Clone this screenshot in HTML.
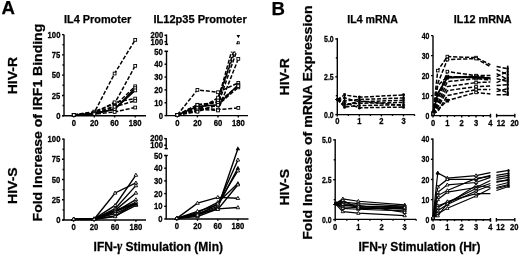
<!DOCTYPE html>
<html><head><meta charset="utf-8"><style>
html,body{margin:0;padding:0;background:#fff;}
svg{display:block;will-change:transform;}
text{font-family:"Liberation Sans", sans-serif;fill:#000;stroke:#000;stroke-width:0.25px;}
</style></head><body>
<svg width="520" height="255" viewBox="0 0 520 255">
<rect width="520" height="255" fill="#fff"/>
<text x="1.40" y="14.40" font-size="18.6" font-weight="bold" text-anchor="start">A</text>
<text x="271.40" y="14.60" font-size="18.6" font-weight="bold" text-anchor="start">B</text>
<text x="97.60" y="22.70" font-size="10.9" font-weight="bold" text-anchor="middle">IL4 Promoter</text>
<text x="200.10" y="22.50" font-size="11.05" font-weight="bold" text-anchor="middle">IL12p35 Promoter</text>
<text x="372.60" y="22.60" font-size="10.6" font-weight="bold" text-anchor="middle">IL4 mRNA</text>
<text x="482.80" y="22.80" font-size="10.85" font-weight="bold" text-anchor="middle">IL12 mRNA</text>
<text x="0.00" y="0.00" font-size="12.4" font-weight="bold" text-anchor="middle" transform="translate(16.80,75.60) rotate(-90) scale(1.13,1)">HIV-R</text>
<text x="0.00" y="0.00" font-size="12.4" font-weight="bold" text-anchor="middle" transform="translate(16.80,185.60) rotate(-90) scale(1.13,1)">HIV-S</text>
<text x="0.00" y="0.00" font-size="12.4" font-weight="bold" text-anchor="middle" transform="translate(289.00,76.80) rotate(-90) scale(1.13,1)">HIV-R</text>
<text x="0.00" y="0.00" font-size="12.4" font-weight="bold" text-anchor="middle" transform="translate(289.00,187.20) rotate(-90) scale(1.13,1)">HIV-S</text>
<text x="0.00" y="0.00" font-size="12.3" font-weight="bold" text-anchor="middle" transform="translate(42.20,122.60) rotate(-90) scale(1.14,1)">Fold Increase of IRF1 Binding</text>
<text x="0.00" y="0.00" font-size="12.3" font-weight="bold" text-anchor="middle" transform="translate(311.80,122.60) rotate(-90) scale(1.146,1)">Fold Increase of mRNA Expression</text>
<text x="0.00" y="0.00" font-size="12.03" font-weight="bold" text-anchor="middle" transform="translate(158.30,251.20) scale(1.0,1.095)">IFN-<tspan font-family="Liberation Serif" font-style="italic" font-weight="bold" font-size="12.5">γ</tspan> Stimulation (Min)</text>
<text x="0.00" y="0.00" font-size="12.03" font-weight="bold" text-anchor="middle" transform="translate(419.50,251.10) scale(1.0,1.095)">IFN-<tspan font-family="Liberation Serif" font-style="italic" font-weight="bold" font-size="12.5">γ</tspan> Stimulation (Hr)</text>
<line x1="64.00" y1="34.40" x2="64.00" y2="115.70" stroke="#000" stroke-width="1.4"/>
<line x1="62.00" y1="115.70" x2="64.00" y2="115.70" stroke="#000" stroke-width="1.4"/>
<text x="0.00" y="0.00" font-size="8.0" font-weight="bold" text-anchor="end" transform="translate(60.40,118.82) scale(0.96,1.1)">0</text>
<line x1="62.00" y1="95.43" x2="64.00" y2="95.43" stroke="#000" stroke-width="1.4"/>
<text x="0.00" y="0.00" font-size="8.0" font-weight="bold" text-anchor="end" transform="translate(60.40,98.55) scale(0.96,1.1)">25</text>
<line x1="62.00" y1="75.16" x2="64.00" y2="75.16" stroke="#000" stroke-width="1.4"/>
<text x="0.00" y="0.00" font-size="8.0" font-weight="bold" text-anchor="end" transform="translate(60.40,78.28) scale(0.96,1.1)">50</text>
<line x1="62.00" y1="54.89" x2="64.00" y2="54.89" stroke="#000" stroke-width="1.4"/>
<text x="0.00" y="0.00" font-size="8.0" font-weight="bold" text-anchor="end" transform="translate(60.40,58.01) scale(0.96,1.1)">75</text>
<line x1="62.00" y1="34.62" x2="64.00" y2="34.62" stroke="#000" stroke-width="1.4"/>
<text x="0.00" y="0.00" font-size="8.0" font-weight="bold" text-anchor="end" transform="translate(60.40,37.74) scale(0.96,1.1)">100</text>
<line x1="62.50" y1="105.56" x2="64.00" y2="105.56" stroke="#000" stroke-width="1.4"/>
<line x1="62.50" y1="85.30" x2="64.00" y2="85.30" stroke="#000" stroke-width="1.4"/>
<line x1="62.50" y1="65.03" x2="64.00" y2="65.03" stroke="#000" stroke-width="1.4"/>
<line x1="62.50" y1="44.76" x2="64.00" y2="44.76" stroke="#000" stroke-width="1.4"/>
<line x1="62.50" y1="115.70" x2="146.00" y2="115.70" stroke="#000" stroke-width="1.4"/>
<line x1="73.80" y1="115.70" x2="73.80" y2="117.50" stroke="#000" stroke-width="1.4"/>
<text x="0.00" y="0.00" font-size="8.0" font-weight="bold" text-anchor="middle" transform="translate(73.80,126.00) scale(0.96,1.1)">0</text>
<line x1="94.30" y1="115.70" x2="94.30" y2="117.50" stroke="#000" stroke-width="1.4"/>
<text x="0.00" y="0.00" font-size="8.0" font-weight="bold" text-anchor="middle" transform="translate(94.30,126.00) scale(0.96,1.1)">20</text>
<line x1="114.60" y1="115.70" x2="114.60" y2="117.50" stroke="#000" stroke-width="1.4"/>
<text x="0.00" y="0.00" font-size="8.0" font-weight="bold" text-anchor="middle" transform="translate(114.60,126.00) scale(0.96,1.1)">60</text>
<line x1="135.20" y1="115.70" x2="135.20" y2="117.50" stroke="#000" stroke-width="1.4"/>
<text x="0.00" y="0.00" font-size="8.0" font-weight="bold" text-anchor="middle" transform="translate(135.20,126.00) scale(0.96,1.1)">180</text>
<polyline points="73.80,114.89 94.30,112.46 114.60,73.54 135.20,39.89" fill="none" stroke="#000" stroke-width="1.5" stroke-dasharray="4,1.8"/>
<polyline points="73.80,114.89 94.30,111.65 114.60,103.54 135.20,65.84" fill="none" stroke="#000" stroke-width="1.5" stroke-dasharray="4,1.8"/>
<polyline points="73.80,114.89 94.30,113.27 114.60,105.97 135.20,86.27" fill="none" stroke="#000" stroke-width="1.5" stroke-dasharray="4,1.8"/>
<polyline points="73.80,114.89 94.30,113.27 114.60,109.21 135.20,88.13" fill="none" stroke="#000" stroke-width="1.5"/>
<polyline points="73.80,114.89 94.30,114.08 114.60,108.97 135.20,90.40" fill="none" stroke="#000" stroke-width="1.5"/>
<polyline points="73.80,114.89 94.30,113.27 114.60,102.32 135.20,98.59" fill="none" stroke="#000" stroke-width="1.5" stroke-dasharray="4,1.8"/>
<polyline points="73.80,114.89 94.30,114.08 114.60,106.78 135.20,100.78" fill="none" stroke="#000" stroke-width="1.5" stroke-dasharray="4,1.8"/>
<polyline points="73.80,114.89 94.30,114.08 114.60,111.97 135.20,107.51" fill="none" stroke="#000" stroke-width="1.5" stroke-dasharray="4,1.8"/>
<rect x="72.40" y="113.49" width="2.80" height="2.80" fill="#fff" stroke="#000" stroke-width="0.9"/>
<rect x="92.90" y="111.06" width="2.80" height="2.80" fill="#fff" stroke="#000" stroke-width="0.9"/>
<rect x="113.20" y="72.14" width="2.80" height="2.80" fill="#fff" stroke="#000" stroke-width="0.9"/>
<rect x="133.80" y="38.49" width="2.80" height="2.80" fill="#fff" stroke="#000" stroke-width="0.9"/>
<rect x="72.40" y="113.49" width="2.80" height="2.80" fill="#fff" stroke="#000" stroke-width="0.9"/>
<rect x="92.90" y="110.25" width="2.80" height="2.80" fill="#fff" stroke="#000" stroke-width="0.9"/>
<rect x="113.20" y="102.14" width="2.80" height="2.80" fill="#fff" stroke="#000" stroke-width="0.9"/>
<rect x="133.80" y="64.44" width="2.80" height="2.80" fill="#fff" stroke="#000" stroke-width="0.9"/>
<rect x="72.40" y="113.49" width="2.80" height="2.80" fill="#fff" stroke="#000" stroke-width="0.9"/>
<rect x="92.90" y="111.87" width="2.80" height="2.80" fill="#fff" stroke="#000" stroke-width="0.9"/>
<rect x="113.20" y="104.57" width="2.80" height="2.80" fill="#fff" stroke="#000" stroke-width="0.9"/>
<rect x="133.80" y="84.87" width="2.80" height="2.80" fill="#fff" stroke="#000" stroke-width="0.9"/>
<rect x="72.40" y="113.49" width="2.80" height="2.80" fill="#fff" stroke="#000" stroke-width="0.9"/>
<rect x="92.90" y="111.87" width="2.80" height="2.80" fill="#fff" stroke="#000" stroke-width="0.9"/>
<rect x="113.20" y="107.81" width="2.80" height="2.80" fill="#fff" stroke="#000" stroke-width="0.9"/>
<rect x="133.80" y="86.73" width="2.80" height="2.80" fill="#fff" stroke="#000" stroke-width="0.9"/>
<rect x="72.40" y="113.49" width="2.80" height="2.80" fill="#fff" stroke="#000" stroke-width="0.9"/>
<rect x="92.90" y="112.68" width="2.80" height="2.80" fill="#fff" stroke="#000" stroke-width="0.9"/>
<rect x="113.20" y="107.57" width="2.80" height="2.80" fill="#fff" stroke="#000" stroke-width="0.9"/>
<rect x="133.80" y="89.00" width="2.80" height="2.80" fill="#fff" stroke="#000" stroke-width="0.9"/>
<rect x="72.40" y="113.49" width="2.80" height="2.80" fill="#fff" stroke="#000" stroke-width="0.9"/>
<rect x="92.90" y="111.87" width="2.80" height="2.80" fill="#fff" stroke="#000" stroke-width="0.9"/>
<rect x="113.20" y="100.92" width="2.80" height="2.80" fill="#fff" stroke="#000" stroke-width="0.9"/>
<rect x="133.80" y="97.19" width="2.80" height="2.80" fill="#fff" stroke="#000" stroke-width="0.9"/>
<rect x="72.40" y="113.49" width="2.80" height="2.80" fill="#fff" stroke="#000" stroke-width="0.9"/>
<rect x="92.90" y="112.68" width="2.80" height="2.80" fill="#fff" stroke="#000" stroke-width="0.9"/>
<rect x="113.20" y="105.38" width="2.80" height="2.80" fill="#fff" stroke="#000" stroke-width="0.9"/>
<rect x="133.80" y="99.38" width="2.80" height="2.80" fill="#fff" stroke="#000" stroke-width="0.9"/>
<rect x="72.40" y="113.49" width="2.80" height="2.80" fill="#fff" stroke="#000" stroke-width="0.9"/>
<rect x="92.90" y="112.68" width="2.80" height="2.80" fill="#fff" stroke="#000" stroke-width="0.9"/>
<rect x="113.20" y="110.57" width="2.80" height="2.80" fill="#fff" stroke="#000" stroke-width="0.9"/>
<rect x="133.80" y="106.11" width="2.80" height="2.80" fill="#fff" stroke="#000" stroke-width="0.9"/>
<line x1="166.50" y1="34.50" x2="166.50" y2="44.40" stroke="#000" stroke-width="1.4"/>
<line x1="164.90" y1="44.40" x2="168.10" y2="44.40" stroke="#000" stroke-width="1.4"/>
<line x1="164.50" y1="35.30" x2="166.50" y2="35.30" stroke="#000" stroke-width="1.4"/>
<line x1="164.50" y1="41.70" x2="166.50" y2="41.70" stroke="#000" stroke-width="1.4"/>
<text x="0.00" y="0.00" font-size="8.0" font-weight="bold" text-anchor="end" transform="translate(163.30,38.00) scale(0.96,1.1)">200</text>
<text x="0.00" y="0.00" font-size="8.0" font-weight="bold" text-anchor="end" transform="translate(163.30,44.70) scale(0.96,1.1)">100</text>
<line x1="164.90" y1="51.30" x2="168.10" y2="51.30" stroke="#000" stroke-width="1.4"/>
<line x1="166.50" y1="51.30" x2="166.50" y2="115.60" stroke="#000" stroke-width="1.4"/>
<line x1="164.50" y1="115.60" x2="166.50" y2="115.60" stroke="#000" stroke-width="1.4"/>
<text x="0.00" y="0.00" font-size="8.0" font-weight="bold" text-anchor="end" transform="translate(162.90,118.72) scale(0.96,1.1)">0</text>
<line x1="164.50" y1="102.76" x2="166.50" y2="102.76" stroke="#000" stroke-width="1.4"/>
<text x="0.00" y="0.00" font-size="8.0" font-weight="bold" text-anchor="end" transform="translate(162.90,105.88) scale(0.96,1.1)">10</text>
<line x1="164.50" y1="89.92" x2="166.50" y2="89.92" stroke="#000" stroke-width="1.4"/>
<text x="0.00" y="0.00" font-size="8.0" font-weight="bold" text-anchor="end" transform="translate(162.90,93.04) scale(0.96,1.1)">20</text>
<line x1="164.50" y1="77.08" x2="166.50" y2="77.08" stroke="#000" stroke-width="1.4"/>
<text x="0.00" y="0.00" font-size="8.0" font-weight="bold" text-anchor="end" transform="translate(162.90,80.20) scale(0.96,1.1)">30</text>
<line x1="164.50" y1="64.24" x2="166.50" y2="64.24" stroke="#000" stroke-width="1.4"/>
<text x="0.00" y="0.00" font-size="8.0" font-weight="bold" text-anchor="end" transform="translate(162.90,67.36) scale(0.96,1.1)">40</text>
<line x1="164.50" y1="51.40" x2="166.50" y2="51.40" stroke="#000" stroke-width="1.4"/>
<text x="0.00" y="0.00" font-size="8.0" font-weight="bold" text-anchor="end" transform="translate(162.90,54.52) scale(0.96,1.1)">50</text>
<line x1="165.80" y1="115.60" x2="248.00" y2="115.60" stroke="#000" stroke-width="1.4"/>
<line x1="177.30" y1="115.60" x2="177.30" y2="117.40" stroke="#000" stroke-width="1.4"/>
<text x="0.00" y="0.00" font-size="8.0" font-weight="bold" text-anchor="middle" transform="translate(177.30,126.00) scale(0.96,1.1)">0</text>
<line x1="197.40" y1="115.60" x2="197.40" y2="117.40" stroke="#000" stroke-width="1.4"/>
<text x="0.00" y="0.00" font-size="8.0" font-weight="bold" text-anchor="middle" transform="translate(197.40,126.00) scale(0.96,1.1)">20</text>
<line x1="218.00" y1="115.60" x2="218.00" y2="117.40" stroke="#000" stroke-width="1.4"/>
<text x="0.00" y="0.00" font-size="8.0" font-weight="bold" text-anchor="middle" transform="translate(218.00,126.00) scale(0.96,1.1)">60</text>
<line x1="238.30" y1="115.60" x2="238.30" y2="117.40" stroke="#000" stroke-width="1.4"/>
<text x="0.00" y="0.00" font-size="8.0" font-weight="bold" text-anchor="middle" transform="translate(238.30,126.00) scale(0.96,1.1)">180</text>
<polyline points="177.30,114.96 197.40,89.92 218.00,92.23 238.30,82.86" fill="none" stroke="#000" stroke-width="1.5" stroke-dasharray="4,1.8"/>
<polyline points="177.30,114.96 197.40,110.98 218.00,104.81 238.30,87.35" fill="none" stroke="#000" stroke-width="1.5" stroke-dasharray="4,1.8"/>
<polyline points="177.30,114.96 197.40,107.90 218.00,109.57 238.30,107.90" fill="none" stroke="#000" stroke-width="1.5" stroke-dasharray="4,1.8"/>
<polyline points="177.30,114.96 197.40,109.18 218.00,110.46 238.30,58.85" fill="none" stroke="#000" stroke-width="1.5" stroke-dasharray="4,1.8"/>
<polyline points="177.30,114.96 197.40,106.61 218.00,104.81 238.30,84.78" fill="none" stroke="#000" stroke-width="1.6"/>
<polyline points="177.30,114.96 197.40,104.81 218.00,101.99 238.30,86.07" fill="none" stroke="#000" stroke-width="1.5" stroke-dasharray="4,1.8"/>
<polyline points="177.30,114.96 197.40,107.90 218.00,100.19 231.50,51.60" fill="none" stroke="#000" stroke-width="1.5" stroke-dasharray="4,1.8"/>
<polyline points="177.30,114.96 197.40,104.81 218.00,102.76 233.50,51.60" fill="none" stroke="#000" stroke-width="1.5" stroke-dasharray="4,1.8"/>
<polyline points="177.30,114.96 197.40,110.46 218.00,97.62 235.00,51.60" fill="none" stroke="#000" stroke-width="1.5" stroke-dasharray="4,1.8"/>
<polyline points="177.30,114.96 197.40,111.75 218.00,104.81 236.50,51.60" fill="none" stroke="#000" stroke-width="1.5" stroke-dasharray="4,1.8"/>
<rect x="175.90" y="113.56" width="2.80" height="2.80" fill="#fff" stroke="#000" stroke-width="0.9"/>
<rect x="196.00" y="88.52" width="2.80" height="2.80" fill="#fff" stroke="#000" stroke-width="0.9"/>
<rect x="216.60" y="90.83" width="2.80" height="2.80" fill="#fff" stroke="#000" stroke-width="0.9"/>
<rect x="236.90" y="81.46" width="2.80" height="2.80" fill="#fff" stroke="#000" stroke-width="0.9"/>
<rect x="175.90" y="113.56" width="2.80" height="2.80" fill="#fff" stroke="#000" stroke-width="0.9"/>
<rect x="196.00" y="109.58" width="2.80" height="2.80" fill="#fff" stroke="#000" stroke-width="0.9"/>
<rect x="216.60" y="103.41" width="2.80" height="2.80" fill="#fff" stroke="#000" stroke-width="0.9"/>
<rect x="236.90" y="85.95" width="2.80" height="2.80" fill="#fff" stroke="#000" stroke-width="0.9"/>
<rect x="175.90" y="113.56" width="2.80" height="2.80" fill="#fff" stroke="#000" stroke-width="0.9"/>
<rect x="196.00" y="106.50" width="2.80" height="2.80" fill="#fff" stroke="#000" stroke-width="0.9"/>
<rect x="216.60" y="108.17" width="2.80" height="2.80" fill="#fff" stroke="#000" stroke-width="0.9"/>
<rect x="236.90" y="106.50" width="2.80" height="2.80" fill="#fff" stroke="#000" stroke-width="0.9"/>
<rect x="175.90" y="113.56" width="2.80" height="2.80" fill="#fff" stroke="#000" stroke-width="0.9"/>
<rect x="196.00" y="107.78" width="2.80" height="2.80" fill="#fff" stroke="#000" stroke-width="0.9"/>
<rect x="216.60" y="109.06" width="2.80" height="2.80" fill="#fff" stroke="#000" stroke-width="0.9"/>
<rect x="236.90" y="57.45" width="2.80" height="2.80" fill="#fff" stroke="#000" stroke-width="0.9"/>
<rect x="175.90" y="113.56" width="2.80" height="2.80" fill="#fff" stroke="#000" stroke-width="0.9"/>
<rect x="196.00" y="105.21" width="2.80" height="2.80" fill="#fff" stroke="#000" stroke-width="0.9"/>
<rect x="216.60" y="103.41" width="2.80" height="2.80" fill="#fff" stroke="#000" stroke-width="0.9"/>
<rect x="236.90" y="83.38" width="2.80" height="2.80" fill="#fff" stroke="#000" stroke-width="0.9"/>
<rect x="175.90" y="113.56" width="2.80" height="2.80" fill="#fff" stroke="#000" stroke-width="0.9"/>
<rect x="196.00" y="103.41" width="2.80" height="2.80" fill="#fff" stroke="#000" stroke-width="0.9"/>
<rect x="216.60" y="100.59" width="2.80" height="2.80" fill="#fff" stroke="#000" stroke-width="0.9"/>
<rect x="236.90" y="84.67" width="2.80" height="2.80" fill="#fff" stroke="#000" stroke-width="0.9"/>
<rect x="196.00" y="106.50" width="2.80" height="2.80" fill="#fff" stroke="#000" stroke-width="0.9"/>
<rect x="216.60" y="98.79" width="2.80" height="2.80" fill="#fff" stroke="#000" stroke-width="0.9"/>
<rect x="196.00" y="103.41" width="2.80" height="2.80" fill="#fff" stroke="#000" stroke-width="0.9"/>
<rect x="216.60" y="101.36" width="2.80" height="2.80" fill="#fff" stroke="#000" stroke-width="0.9"/>
<rect x="196.00" y="109.06" width="2.80" height="2.80" fill="#fff" stroke="#000" stroke-width="0.9"/>
<rect x="216.60" y="96.22" width="2.80" height="2.80" fill="#fff" stroke="#000" stroke-width="0.9"/>
<rect x="196.00" y="110.35" width="2.80" height="2.80" fill="#fff" stroke="#000" stroke-width="0.9"/>
<rect x="216.60" y="103.41" width="2.80" height="2.80" fill="#fff" stroke="#000" stroke-width="0.9"/>
<polygon points="238.30,38.15 240.10,35.05 236.50,35.05" fill="#000"/>
<line x1="236.60" y1="44.20" x2="238.20" y2="41.20" stroke="#000" stroke-width="1.2"/>
<rect x="237.30" y="41.80" width="2.00" height="2.00" fill="#fff" stroke="#000" stroke-width="0.8"/>
<line x1="64.00" y1="138.60" x2="64.00" y2="220.00" stroke="#000" stroke-width="1.4"/>
<line x1="62.00" y1="220.00" x2="64.00" y2="220.00" stroke="#000" stroke-width="1.4"/>
<text x="0.00" y="0.00" font-size="8.0" font-weight="bold" text-anchor="end" transform="translate(60.40,223.12) scale(0.96,1.1)">0</text>
<line x1="62.00" y1="199.78" x2="64.00" y2="199.78" stroke="#000" stroke-width="1.4"/>
<text x="0.00" y="0.00" font-size="8.0" font-weight="bold" text-anchor="end" transform="translate(60.40,202.90) scale(0.96,1.1)">25</text>
<line x1="62.00" y1="179.55" x2="64.00" y2="179.55" stroke="#000" stroke-width="1.4"/>
<text x="0.00" y="0.00" font-size="8.0" font-weight="bold" text-anchor="end" transform="translate(60.40,182.67) scale(0.96,1.1)">50</text>
<line x1="62.00" y1="159.32" x2="64.00" y2="159.32" stroke="#000" stroke-width="1.4"/>
<text x="0.00" y="0.00" font-size="8.0" font-weight="bold" text-anchor="end" transform="translate(60.40,162.44) scale(0.96,1.1)">75</text>
<line x1="62.00" y1="139.10" x2="64.00" y2="139.10" stroke="#000" stroke-width="1.4"/>
<text x="0.00" y="0.00" font-size="8.0" font-weight="bold" text-anchor="end" transform="translate(60.40,142.22) scale(0.96,1.1)">100</text>
<line x1="62.50" y1="209.89" x2="64.00" y2="209.89" stroke="#000" stroke-width="1.4"/>
<line x1="62.50" y1="189.66" x2="64.00" y2="189.66" stroke="#000" stroke-width="1.4"/>
<line x1="62.50" y1="169.44" x2="64.00" y2="169.44" stroke="#000" stroke-width="1.4"/>
<line x1="62.50" y1="149.21" x2="64.00" y2="149.21" stroke="#000" stroke-width="1.4"/>
<line x1="62.50" y1="220.00" x2="146.00" y2="220.00" stroke="#000" stroke-width="1.4"/>
<line x1="73.60" y1="220.00" x2="73.60" y2="221.80" stroke="#000" stroke-width="1.4"/>
<text x="0.00" y="0.00" font-size="8.0" font-weight="bold" text-anchor="middle" transform="translate(73.60,229.60) scale(0.96,1.1)">0</text>
<line x1="94.10" y1="220.00" x2="94.10" y2="221.80" stroke="#000" stroke-width="1.4"/>
<text x="0.00" y="0.00" font-size="8.0" font-weight="bold" text-anchor="middle" transform="translate(94.10,229.60) scale(0.96,1.1)">20</text>
<line x1="115.10" y1="220.00" x2="115.10" y2="221.80" stroke="#000" stroke-width="1.4"/>
<text x="0.00" y="0.00" font-size="8.0" font-weight="bold" text-anchor="middle" transform="translate(115.10,229.60) scale(0.96,1.1)">60</text>
<line x1="135.90" y1="220.00" x2="135.90" y2="221.80" stroke="#000" stroke-width="1.4"/>
<text x="0.00" y="0.00" font-size="8.0" font-weight="bold" text-anchor="middle" transform="translate(135.90,229.60) scale(0.96,1.1)">180</text>
<polyline points="73.60,219.19 94.10,219.19 115.10,192.98 135.90,182.95" fill="none" stroke="#000" stroke-width="1.4"/>
<polyline points="73.60,219.19 94.10,218.79 115.10,205.44 135.90,175.10" fill="none" stroke="#000" stroke-width="1.4"/>
<polyline points="73.60,219.19 94.10,219.19 115.10,208.67 135.90,185.62" fill="none" stroke="#000" stroke-width="1.4"/>
<polyline points="73.60,219.19 94.10,219.19 115.10,210.29 135.90,192.98" fill="none" stroke="#000" stroke-width="1.4"/>
<polyline points="73.60,219.19 94.10,218.79 115.10,211.91 135.90,199.69" fill="none" stroke="#000" stroke-width="1.4"/>
<polyline points="73.60,219.19 94.10,219.19 115.10,213.53 135.90,204.06" fill="none" stroke="#000" stroke-width="1.4"/>
<polyline points="73.60,219.19 94.10,219.19 115.10,215.96 135.90,205.28" fill="none" stroke="#000" stroke-width="1.4"/>
<polyline points="73.60,219.19 94.10,219.19 115.10,216.52 135.90,202.20" fill="none" stroke="#000" stroke-width="1.4"/>
<polyline points="73.60,219.19 94.10,219.19 115.10,211.10 135.90,203.01" fill="none" stroke="#000" stroke-width="2.2"/>
<polygon points="73.60,217.24 75.40,220.35 71.80,220.35" fill="#fff" stroke="#000" stroke-width="0.9"/>
<polygon points="94.10,217.24 95.90,220.35 92.30,220.35" fill="#fff" stroke="#000" stroke-width="0.9"/>
<polygon points="115.10,191.03 116.90,194.13 113.30,194.13" fill="#fff" stroke="#000" stroke-width="0.9"/>
<polygon points="135.90,181.00 137.70,184.10 134.10,184.10" fill="#fff" stroke="#000" stroke-width="0.9"/>
<polygon points="73.60,217.24 75.40,220.35 71.80,220.35" fill="#fff" stroke="#000" stroke-width="0.9"/>
<polygon points="94.10,216.84 95.90,219.94 92.30,219.94" fill="#fff" stroke="#000" stroke-width="0.9"/>
<polygon points="115.10,203.49 116.90,206.59 113.30,206.59" fill="#fff" stroke="#000" stroke-width="0.9"/>
<polygon points="135.90,173.15 137.70,176.26 134.10,176.26" fill="#fff" stroke="#000" stroke-width="0.9"/>
<polygon points="73.60,217.24 75.40,220.35 71.80,220.35" fill="#fff" stroke="#000" stroke-width="0.9"/>
<polygon points="94.10,217.24 95.90,220.35 92.30,220.35" fill="#fff" stroke="#000" stroke-width="0.9"/>
<polygon points="115.10,206.72 116.90,209.83 113.30,209.83" fill="#fff" stroke="#000" stroke-width="0.9"/>
<polygon points="135.90,183.67 137.70,186.77 134.10,186.77" fill="#fff" stroke="#000" stroke-width="0.9"/>
<polygon points="73.60,217.24 75.40,220.35 71.80,220.35" fill="#fff" stroke="#000" stroke-width="0.9"/>
<polygon points="94.10,217.24 95.90,220.35 92.30,220.35" fill="#fff" stroke="#000" stroke-width="0.9"/>
<polygon points="115.10,208.34 116.90,211.45 113.30,211.45" fill="#fff" stroke="#000" stroke-width="0.9"/>
<polygon points="135.90,191.03 137.70,194.13 134.10,194.13" fill="#fff" stroke="#000" stroke-width="0.9"/>
<polygon points="73.60,217.24 75.40,220.35 71.80,220.35" fill="#fff" stroke="#000" stroke-width="0.9"/>
<polygon points="94.10,216.84 95.90,219.94 92.30,219.94" fill="#fff" stroke="#000" stroke-width="0.9"/>
<polygon points="115.10,209.96 116.90,213.06 113.30,213.06" fill="#fff" stroke="#000" stroke-width="0.9"/>
<polygon points="135.90,197.74 137.70,200.85 134.10,200.85" fill="#fff" stroke="#000" stroke-width="0.9"/>
<polygon points="73.60,217.24 75.40,220.35 71.80,220.35" fill="#fff" stroke="#000" stroke-width="0.9"/>
<polygon points="94.10,217.24 95.90,220.35 92.30,220.35" fill="#fff" stroke="#000" stroke-width="0.9"/>
<polygon points="115.10,211.58 116.90,214.68 113.30,214.68" fill="#fff" stroke="#000" stroke-width="0.9"/>
<polygon points="135.90,202.11 137.70,205.22 134.10,205.22" fill="#fff" stroke="#000" stroke-width="0.9"/>
<polygon points="73.60,217.24 75.40,220.35 71.80,220.35" fill="#fff" stroke="#000" stroke-width="0.9"/>
<polygon points="94.10,217.24 95.90,220.35 92.30,220.35" fill="#fff" stroke="#000" stroke-width="0.9"/>
<polygon points="115.10,214.00 116.90,217.11 113.30,217.11" fill="#fff" stroke="#000" stroke-width="0.9"/>
<polygon points="135.90,203.33 137.70,206.43 134.10,206.43" fill="#fff" stroke="#000" stroke-width="0.9"/>
<polygon points="73.60,217.24 75.40,220.35 71.80,220.35" fill="#fff" stroke="#000" stroke-width="0.9"/>
<polygon points="94.10,217.24 95.90,220.35 92.30,220.35" fill="#fff" stroke="#000" stroke-width="0.9"/>
<polygon points="115.10,214.57 116.90,217.68 113.30,217.68" fill="#fff" stroke="#000" stroke-width="0.9"/>
<polygon points="135.90,200.25 137.70,203.36 134.10,203.36" fill="#fff" stroke="#000" stroke-width="0.9"/>
<polygon points="135.90,201.72 138.20,205.76 133.60,205.76" fill="#000"/>
<line x1="166.20" y1="137.90" x2="166.20" y2="148.70" stroke="#000" stroke-width="1.4"/>
<line x1="164.60" y1="148.70" x2="167.80" y2="148.70" stroke="#000" stroke-width="1.4"/>
<line x1="164.20" y1="138.60" x2="166.20" y2="138.60" stroke="#000" stroke-width="1.4"/>
<line x1="164.20" y1="145.20" x2="166.20" y2="145.20" stroke="#000" stroke-width="1.4"/>
<text x="0.00" y="0.00" font-size="8.0" font-weight="bold" text-anchor="end" transform="translate(163.00,141.30) scale(0.96,1.1)">200</text>
<text x="0.00" y="0.00" font-size="8.0" font-weight="bold" text-anchor="end" transform="translate(163.00,148.20) scale(0.96,1.1)">100</text>
<line x1="164.60" y1="155.50" x2="167.80" y2="155.50" stroke="#000" stroke-width="1.4"/>
<line x1="166.20" y1="155.50" x2="166.20" y2="219.00" stroke="#000" stroke-width="1.4"/>
<line x1="164.20" y1="219.00" x2="166.20" y2="219.00" stroke="#000" stroke-width="1.4"/>
<text x="0.00" y="0.00" font-size="8.0" font-weight="bold" text-anchor="end" transform="translate(162.60,222.12) scale(0.96,1.1)">0</text>
<line x1="164.20" y1="206.30" x2="166.20" y2="206.30" stroke="#000" stroke-width="1.4"/>
<text x="0.00" y="0.00" font-size="8.0" font-weight="bold" text-anchor="end" transform="translate(162.60,209.42) scale(0.96,1.1)">10</text>
<line x1="164.20" y1="193.60" x2="166.20" y2="193.60" stroke="#000" stroke-width="1.4"/>
<text x="0.00" y="0.00" font-size="8.0" font-weight="bold" text-anchor="end" transform="translate(162.60,196.72) scale(0.96,1.1)">20</text>
<line x1="164.20" y1="180.90" x2="166.20" y2="180.90" stroke="#000" stroke-width="1.4"/>
<text x="0.00" y="0.00" font-size="8.0" font-weight="bold" text-anchor="end" transform="translate(162.60,184.02) scale(0.96,1.1)">30</text>
<line x1="164.20" y1="168.20" x2="166.20" y2="168.20" stroke="#000" stroke-width="1.4"/>
<text x="0.00" y="0.00" font-size="8.0" font-weight="bold" text-anchor="end" transform="translate(162.60,171.32) scale(0.96,1.1)">40</text>
<line x1="164.20" y1="155.50" x2="166.20" y2="155.50" stroke="#000" stroke-width="1.4"/>
<text x="0.00" y="0.00" font-size="8.0" font-weight="bold" text-anchor="end" transform="translate(162.60,158.62) scale(0.96,1.1)">50</text>
<line x1="165.70" y1="219.00" x2="248.50" y2="219.00" stroke="#000" stroke-width="1.4"/>
<line x1="176.80" y1="219.00" x2="176.80" y2="220.80" stroke="#000" stroke-width="1.4"/>
<text x="0.00" y="0.00" font-size="8.0" font-weight="bold" text-anchor="middle" transform="translate(176.80,229.00) scale(0.96,1.1)">0</text>
<line x1="197.50" y1="219.00" x2="197.50" y2="220.80" stroke="#000" stroke-width="1.4"/>
<text x="0.00" y="0.00" font-size="8.0" font-weight="bold" text-anchor="middle" transform="translate(197.50,229.00) scale(0.96,1.1)">20</text>
<line x1="217.80" y1="219.00" x2="217.80" y2="220.80" stroke="#000" stroke-width="1.4"/>
<text x="0.00" y="0.00" font-size="8.0" font-weight="bold" text-anchor="middle" transform="translate(217.80,229.00) scale(0.96,1.1)">60</text>
<line x1="237.90" y1="219.00" x2="237.90" y2="220.80" stroke="#000" stroke-width="1.4"/>
<text x="0.00" y="0.00" font-size="8.0" font-weight="bold" text-anchor="middle" transform="translate(237.90,229.00) scale(0.96,1.1)">180</text>
<polyline points="176.80,218.37 197.50,203.12 217.80,197.41 237.90,198.30" fill="none" stroke="#000" stroke-width="1.4"/>
<polyline points="176.80,218.37 197.50,212.65 217.80,202.49 237.90,183.44" fill="none" stroke="#000" stroke-width="1.4"/>
<polyline points="176.80,218.37 197.50,213.92 217.80,206.30 237.90,168.20" fill="none" stroke="#000" stroke-width="1.4"/>
<polyline points="176.80,218.37 197.50,211.38 217.80,205.03 237.90,159.94" fill="none" stroke="#000" stroke-width="1.4"/>
<polyline points="176.80,218.37 197.50,215.19 217.80,207.57 237.90,148.77" fill="none" stroke="#000" stroke-width="1.4"/>
<polyline points="176.80,218.37 197.50,216.46 217.80,208.84 237.90,207.57" fill="none" stroke="#000" stroke-width="1.4"/>
<polyline points="176.80,218.37 197.50,213.92 217.80,209.35 237.90,184.71" fill="none" stroke="#000" stroke-width="1.4"/>
<polyline points="176.80,218.37 197.50,215.19 217.80,203.76 237.90,170.74" fill="none" stroke="#000" stroke-width="1.4"/>
<polygon points="176.80,216.41 178.60,219.52 175.00,219.52" fill="#fff" stroke="#000" stroke-width="0.9"/>
<polygon points="197.50,201.17 199.30,204.28 195.70,204.28" fill="#fff" stroke="#000" stroke-width="0.9"/>
<polygon points="217.80,195.46 219.60,198.56 216.00,198.56" fill="#fff" stroke="#000" stroke-width="0.9"/>
<polygon points="237.90,196.35 239.70,199.45 236.10,199.45" fill="#fff" stroke="#000" stroke-width="0.9"/>
<polygon points="176.80,216.41 178.60,219.52 175.00,219.52" fill="#fff" stroke="#000" stroke-width="0.9"/>
<polygon points="197.50,210.70 199.30,213.81 195.70,213.81" fill="#fff" stroke="#000" stroke-width="0.9"/>
<polygon points="217.80,200.54 219.60,203.65 216.00,203.65" fill="#fff" stroke="#000" stroke-width="0.9"/>
<polygon points="237.90,180.94 240.20,184.98 235.60,184.98" fill="#000"/>
<polygon points="176.80,216.41 178.60,219.52 175.00,219.52" fill="#fff" stroke="#000" stroke-width="0.9"/>
<polygon points="197.50,211.97 199.30,215.07 195.70,215.07" fill="#fff" stroke="#000" stroke-width="0.9"/>
<polygon points="217.80,204.35 219.60,207.46 216.00,207.46" fill="#fff" stroke="#000" stroke-width="0.9"/>
<polygon points="237.90,165.70 240.20,169.74 235.60,169.74" fill="#000"/>
<polygon points="176.80,216.41 178.60,219.52 175.00,219.52" fill="#fff" stroke="#000" stroke-width="0.9"/>
<polygon points="197.50,209.43 199.30,212.53 195.70,212.53" fill="#fff" stroke="#000" stroke-width="0.9"/>
<polygon points="217.80,203.08 219.60,206.19 216.00,206.19" fill="#fff" stroke="#000" stroke-width="0.9"/>
<polygon points="237.90,157.99 239.70,161.10 236.10,161.10" fill="#fff" stroke="#000" stroke-width="0.9"/>
<polygon points="176.80,216.41 178.60,219.52 175.00,219.52" fill="#fff" stroke="#000" stroke-width="0.9"/>
<polygon points="197.50,213.24 199.30,216.34 195.70,216.34" fill="#fff" stroke="#000" stroke-width="0.9"/>
<polygon points="217.80,205.62 219.60,208.72 216.00,208.72" fill="#fff" stroke="#000" stroke-width="0.9"/>
<polygon points="237.90,146.27 240.20,150.31 235.60,150.31" fill="#000"/>
<polygon points="176.80,216.41 178.60,219.52 175.00,219.52" fill="#fff" stroke="#000" stroke-width="0.9"/>
<polygon points="197.50,214.51 199.30,217.62 195.70,217.62" fill="#fff" stroke="#000" stroke-width="0.9"/>
<polygon points="217.80,206.89 219.60,210.00 216.00,210.00" fill="#fff" stroke="#000" stroke-width="0.9"/>
<polygon points="237.90,205.62 239.70,208.72 236.10,208.72" fill="#fff" stroke="#000" stroke-width="0.9"/>
<polygon points="176.80,216.41 178.60,219.52 175.00,219.52" fill="#fff" stroke="#000" stroke-width="0.9"/>
<polygon points="197.50,211.97 199.30,215.07 195.70,215.07" fill="#fff" stroke="#000" stroke-width="0.9"/>
<polygon points="217.80,207.40 219.60,210.50 216.00,210.50" fill="#fff" stroke="#000" stroke-width="0.9"/>
<polygon points="237.90,182.76 239.70,185.87 236.10,185.87" fill="#fff" stroke="#000" stroke-width="0.9"/>
<polygon points="176.80,216.41 178.60,219.52 175.00,219.52" fill="#fff" stroke="#000" stroke-width="0.9"/>
<polygon points="197.50,213.24 199.30,216.34 195.70,216.34" fill="#fff" stroke="#000" stroke-width="0.9"/>
<polygon points="217.80,201.81 219.60,204.91 216.00,204.91" fill="#fff" stroke="#000" stroke-width="0.9"/>
<polygon points="237.90,168.79 239.70,171.90 236.10,171.90" fill="#fff" stroke="#000" stroke-width="0.9"/>
<line x1="337.30" y1="38.00" x2="337.30" y2="114.60" stroke="#000" stroke-width="1.4"/>
<line x1="335.30" y1="114.60" x2="337.30" y2="114.60" stroke="#000" stroke-width="1.4"/>
<text x="0.00" y="0.00" font-size="7.9" font-weight="bold" text-anchor="end" transform="translate(333.70,117.68) scale(0.88,1.1)">0.0</text>
<line x1="335.30" y1="76.80" x2="337.30" y2="76.80" stroke="#000" stroke-width="1.4"/>
<text x="0.00" y="0.00" font-size="7.9" font-weight="bold" text-anchor="end" transform="translate(333.70,79.88) scale(0.88,1.1)">2.5</text>
<line x1="335.30" y1="39.00" x2="337.30" y2="39.00" stroke="#000" stroke-width="1.4"/>
<text x="0.00" y="0.00" font-size="7.9" font-weight="bold" text-anchor="end" transform="translate(333.70,42.08) scale(0.88,1.1)">5.0</text>
<line x1="335.80" y1="95.70" x2="337.30" y2="95.70" stroke="#000" stroke-width="1.4"/>
<line x1="335.80" y1="57.90" x2="337.30" y2="57.90" stroke="#000" stroke-width="1.4"/>
<line x1="337.30" y1="114.60" x2="414.80" y2="114.60" stroke="#000" stroke-width="1.4"/>
<line x1="337.30" y1="114.60" x2="337.30" y2="116.40" stroke="#000" stroke-width="1.4"/>
<text x="0.00" y="0.00" font-size="7.9" font-weight="bold" text-anchor="middle" transform="translate(337.30,123.90) scale(0.96,1.1)">0</text>
<line x1="359.37" y1="114.60" x2="359.37" y2="116.40" stroke="#000" stroke-width="1.4"/>
<text x="0.00" y="0.00" font-size="7.9" font-weight="bold" text-anchor="middle" transform="translate(359.37,123.90) scale(0.96,1.1)">1</text>
<line x1="381.44" y1="114.60" x2="381.44" y2="116.40" stroke="#000" stroke-width="1.4"/>
<text x="0.00" y="0.00" font-size="7.9" font-weight="bold" text-anchor="middle" transform="translate(381.44,123.90) scale(0.96,1.1)">2</text>
<line x1="403.51" y1="114.60" x2="403.51" y2="116.40" stroke="#000" stroke-width="1.4"/>
<text x="0.00" y="0.00" font-size="7.9" font-weight="bold" text-anchor="middle" transform="translate(403.51,123.90) scale(0.96,1.1)">3</text>
<line x1="348.34" y1="114.60" x2="348.34" y2="115.90" stroke="#000" stroke-width="1.4"/>
<line x1="370.41" y1="114.60" x2="370.41" y2="115.90" stroke="#000" stroke-width="1.4"/>
<line x1="392.48" y1="114.60" x2="392.48" y2="115.90" stroke="#000" stroke-width="1.4"/>
<line x1="414.55" y1="114.60" x2="414.55" y2="115.90" stroke="#000" stroke-width="1.4"/>
<polyline points="337.30,99.48 344.58,94.94 359.37,97.21 403.51,94.94" fill="none" stroke="#000" stroke-width="1.5" stroke-dasharray="4,1.7"/>
<polyline points="337.30,99.48 344.58,100.99 359.37,99.48 403.51,97.97" fill="none" stroke="#000" stroke-width="1.5" stroke-dasharray="4,1.7"/>
<polyline points="337.30,99.48 344.58,97.97 359.37,101.75 403.51,100.24" fill="none" stroke="#000" stroke-width="1.5" stroke-dasharray="4,1.7"/>
<polyline points="337.30,99.48 344.58,104.02 359.37,103.26 403.51,102.50" fill="none" stroke="#000" stroke-width="1.5" stroke-dasharray="4,1.7"/>
<polyline points="337.30,99.48 344.58,107.04 359.37,105.53 403.51,104.77" fill="none" stroke="#000" stroke-width="1.5" stroke-dasharray="4,1.7"/>
<polyline points="337.30,99.48 344.58,102.50 359.37,107.80 403.51,107.04" fill="none" stroke="#000" stroke-width="1.5" stroke-dasharray="4,1.7"/>
<polyline points="337.30,99.48 344.58,105.53 359.37,100.99 403.51,105.53" fill="none" stroke="#000" stroke-width="1.5" stroke-dasharray="4,1.7"/>
<circle cx="337.30" cy="99.48" r="1.10" fill="#fff" stroke="#000" stroke-width="0.9"/>
<circle cx="344.58" cy="94.94" r="1.10" fill="#fff" stroke="#000" stroke-width="0.9"/>
<circle cx="359.37" cy="97.21" r="1.10" fill="#fff" stroke="#000" stroke-width="0.9"/>
<circle cx="403.51" cy="94.94" r="1.10" fill="#fff" stroke="#000" stroke-width="0.9"/>
<circle cx="337.30" cy="99.48" r="1.10" fill="#fff" stroke="#000" stroke-width="0.9"/>
<circle cx="344.58" cy="100.99" r="1.10" fill="#fff" stroke="#000" stroke-width="0.9"/>
<circle cx="359.37" cy="99.48" r="1.10" fill="#fff" stroke="#000" stroke-width="0.9"/>
<circle cx="403.51" cy="97.97" r="1.10" fill="#fff" stroke="#000" stroke-width="0.9"/>
<circle cx="337.30" cy="99.48" r="1.10" fill="#fff" stroke="#000" stroke-width="0.9"/>
<circle cx="344.58" cy="97.97" r="1.10" fill="#fff" stroke="#000" stroke-width="0.9"/>
<circle cx="359.37" cy="101.75" r="1.10" fill="#fff" stroke="#000" stroke-width="0.9"/>
<circle cx="403.51" cy="100.24" r="1.10" fill="#fff" stroke="#000" stroke-width="0.9"/>
<circle cx="337.30" cy="99.48" r="1.10" fill="#fff" stroke="#000" stroke-width="0.9"/>
<circle cx="344.58" cy="104.02" r="1.10" fill="#fff" stroke="#000" stroke-width="0.9"/>
<circle cx="359.37" cy="103.26" r="1.10" fill="#fff" stroke="#000" stroke-width="0.9"/>
<circle cx="403.51" cy="102.50" r="1.10" fill="#fff" stroke="#000" stroke-width="0.9"/>
<circle cx="337.30" cy="99.48" r="1.10" fill="#fff" stroke="#000" stroke-width="0.9"/>
<circle cx="344.58" cy="107.04" r="1.10" fill="#fff" stroke="#000" stroke-width="0.9"/>
<circle cx="359.37" cy="105.53" r="1.10" fill="#fff" stroke="#000" stroke-width="0.9"/>
<circle cx="403.51" cy="104.77" r="1.10" fill="#fff" stroke="#000" stroke-width="0.9"/>
<circle cx="337.30" cy="99.48" r="1.10" fill="#fff" stroke="#000" stroke-width="0.9"/>
<circle cx="344.58" cy="102.50" r="1.10" fill="#fff" stroke="#000" stroke-width="0.9"/>
<circle cx="359.37" cy="107.80" r="1.10" fill="#fff" stroke="#000" stroke-width="0.9"/>
<circle cx="403.51" cy="107.04" r="1.10" fill="#fff" stroke="#000" stroke-width="0.9"/>
<circle cx="337.30" cy="99.48" r="1.10" fill="#fff" stroke="#000" stroke-width="0.9"/>
<circle cx="344.58" cy="105.53" r="1.10" fill="#fff" stroke="#000" stroke-width="0.9"/>
<circle cx="359.37" cy="100.99" r="1.10" fill="#fff" stroke="#000" stroke-width="0.9"/>
<circle cx="403.51" cy="105.53" r="1.10" fill="#fff" stroke="#000" stroke-width="0.9"/>
<circle cx="337.80" cy="99.48" r="1.60" fill="#000"/>
<line x1="344.58" y1="107.80" x2="344.58" y2="93.89" stroke="#000" stroke-width="1.4"/>
<line x1="343.28" y1="107.80" x2="345.88" y2="107.80" stroke="#000" stroke-width="1.2"/>
<line x1="343.28" y1="93.89" x2="345.88" y2="93.89" stroke="#000" stroke-width="1.2"/>
<line x1="359.37" y1="108.55" x2="359.37" y2="96.46" stroke="#000" stroke-width="1.4"/>
<line x1="358.07" y1="108.55" x2="360.67" y2="108.55" stroke="#000" stroke-width="1.2"/>
<line x1="358.07" y1="96.46" x2="360.67" y2="96.46" stroke="#000" stroke-width="1.2"/>
<line x1="403.51" y1="107.80" x2="403.51" y2="94.19" stroke="#000" stroke-width="1.4"/>
<line x1="402.21" y1="107.80" x2="404.81" y2="107.80" stroke="#000" stroke-width="1.2"/>
<line x1="402.21" y1="94.19" x2="404.81" y2="94.19" stroke="#000" stroke-width="1.2"/>
<line x1="433.00" y1="35.40" x2="433.00" y2="115.60" stroke="#000" stroke-width="1.4"/>
<line x1="431.00" y1="115.60" x2="433.00" y2="115.60" stroke="#000" stroke-width="1.4"/>
<text x="0.00" y="0.00" font-size="7.9" font-weight="bold" text-anchor="end" transform="translate(429.40,118.68) scale(0.88,1.1)">0</text>
<line x1="431.00" y1="95.60" x2="433.00" y2="95.60" stroke="#000" stroke-width="1.4"/>
<text x="0.00" y="0.00" font-size="7.9" font-weight="bold" text-anchor="end" transform="translate(429.40,98.68) scale(0.88,1.1)">10</text>
<line x1="431.00" y1="75.60" x2="433.00" y2="75.60" stroke="#000" stroke-width="1.4"/>
<text x="0.00" y="0.00" font-size="7.9" font-weight="bold" text-anchor="end" transform="translate(429.40,78.68) scale(0.88,1.1)">20</text>
<line x1="431.00" y1="55.60" x2="433.00" y2="55.60" stroke="#000" stroke-width="1.4"/>
<text x="0.00" y="0.00" font-size="7.9" font-weight="bold" text-anchor="end" transform="translate(429.40,58.68) scale(0.88,1.1)">30</text>
<line x1="431.00" y1="35.60" x2="433.00" y2="35.60" stroke="#000" stroke-width="1.4"/>
<text x="0.00" y="0.00" font-size="7.9" font-weight="bold" text-anchor="end" transform="translate(429.40,38.68) scale(0.88,1.1)">40</text>
<line x1="433.00" y1="115.60" x2="490.50" y2="115.60" stroke="#000" stroke-width="1.4"/>
<line x1="496.60" y1="115.60" x2="514.80" y2="115.60" stroke="#000" stroke-width="1.4"/>
<line x1="433.00" y1="115.60" x2="433.00" y2="117.40" stroke="#000" stroke-width="1.4"/>
<text x="0.00" y="0.00" font-size="7.9" font-weight="bold" text-anchor="middle" transform="translate(433.00,125.60) scale(0.96,1.1)">0</text>
<line x1="447.35" y1="115.60" x2="447.35" y2="117.40" stroke="#000" stroke-width="1.4"/>
<text x="0.00" y="0.00" font-size="7.9" font-weight="bold" text-anchor="middle" transform="translate(447.35,125.60) scale(0.96,1.1)">1</text>
<line x1="461.70" y1="115.60" x2="461.70" y2="117.40" stroke="#000" stroke-width="1.4"/>
<text x="0.00" y="0.00" font-size="7.9" font-weight="bold" text-anchor="middle" transform="translate(461.70,125.60) scale(0.96,1.1)">2</text>
<line x1="476.05" y1="115.60" x2="476.05" y2="117.40" stroke="#000" stroke-width="1.4"/>
<text x="0.00" y="0.00" font-size="7.9" font-weight="bold" text-anchor="middle" transform="translate(476.05,125.60) scale(0.96,1.1)">3</text>
<line x1="490.40" y1="115.60" x2="490.40" y2="117.40" stroke="#000" stroke-width="1.4"/>
<text x="0.00" y="0.00" font-size="7.9" font-weight="bold" text-anchor="middle" transform="translate(490.40,125.60) scale(0.96,1.1)">4</text>
<line x1="440.18" y1="115.60" x2="440.18" y2="116.90" stroke="#000" stroke-width="1.4"/>
<line x1="454.52" y1="115.60" x2="454.52" y2="116.90" stroke="#000" stroke-width="1.4"/>
<line x1="468.88" y1="115.60" x2="468.88" y2="116.90" stroke="#000" stroke-width="1.4"/>
<line x1="483.23" y1="115.60" x2="483.23" y2="116.90" stroke="#000" stroke-width="1.4"/>
<line x1="490.50" y1="113.80" x2="490.50" y2="117.40" stroke="#000" stroke-width="1.4"/>
<line x1="496.60" y1="113.80" x2="496.60" y2="117.40" stroke="#000" stroke-width="1.4"/>
<line x1="514.80" y1="113.80" x2="514.80" y2="117.40" stroke="#000" stroke-width="1.4"/>
<text x="0.00" y="0.00" font-size="7.9" font-weight="bold" text-anchor="middle" transform="translate(500.90,125.60) scale(0.96,1.1)">12</text>
<text x="0.00" y="0.00" font-size="7.9" font-weight="bold" text-anchor="middle" transform="translate(514.60,125.60) scale(0.96,1.1)">20</text>
<polyline points="433.00,113.60 437.74,70.60 447.35,56.60 476.05,57.60 490.40,64.60" fill="none" stroke="#000" stroke-width="1.5" stroke-dasharray="4.2,1.8"/>
<polyline points="496.60,66.60 507.70,68.60" fill="none" stroke="#000" stroke-width="1.5" stroke-dasharray="4.2,1.8"/>
<polyline points="433.00,113.60 437.74,83.60 447.35,59.60 476.05,58.60 490.40,66.60" fill="none" stroke="#000" stroke-width="1.5" stroke-dasharray="4.2,1.8"/>
<polyline points="496.60,69.60 507.70,74.60" fill="none" stroke="#000" stroke-width="1.5" stroke-dasharray="4.2,1.8"/>
<polyline points="433.00,113.60 437.74,99.60 447.35,77.60 476.05,76.00 490.40,78.00" fill="none" stroke="#000" stroke-width="1.5" stroke-dasharray="4.2,1.8"/>
<polyline points="496.60,76.60 507.70,71.60" fill="none" stroke="#000" stroke-width="1.5" stroke-dasharray="4.2,1.8"/>
<polyline points="433.00,113.60 437.74,103.60 447.35,81.60 476.05,78.60 490.40,80.00" fill="none" stroke="#000" stroke-width="1.5" stroke-dasharray="4.2,1.8"/>
<polyline points="496.60,78.60 507.70,81.60" fill="none" stroke="#000" stroke-width="1.5" stroke-dasharray="4.2,1.8"/>
<polyline points="433.00,113.60 437.74,105.60 447.35,86.60 476.05,82.60 490.40,82.00" fill="none" stroke="#000" stroke-width="1.5" stroke-dasharray="4.2,1.8"/>
<polyline points="496.60,82.60 507.70,77.60" fill="none" stroke="#000" stroke-width="1.5" stroke-dasharray="4.2,1.8"/>
<polyline points="433.00,113.60 437.74,107.60 447.35,90.60 476.05,86.60 490.40,86.00" fill="none" stroke="#000" stroke-width="1.5" stroke-dasharray="4.2,1.8"/>
<polyline points="496.60,85.60 507.70,84.60" fill="none" stroke="#000" stroke-width="1.5" stroke-dasharray="4.2,1.8"/>
<polyline points="433.00,113.60 437.74,109.60 447.35,100.60 476.05,92.40 490.40,94.00" fill="none" stroke="#000" stroke-width="1.5" stroke-dasharray="4.2,1.8"/>
<polyline points="496.60,91.60 507.70,88.60" fill="none" stroke="#000" stroke-width="1.5" stroke-dasharray="4.2,1.8"/>
<polyline points="433.00,113.60 437.74,111.60 447.35,95.60 476.05,89.60 490.40,89.60" fill="none" stroke="#000" stroke-width="1.5" stroke-dasharray="4.2,1.8"/>
<polyline points="496.60,88.60 507.70,92.60" fill="none" stroke="#000" stroke-width="1.5" stroke-dasharray="4.2,1.8"/>
<polyline points="433.00,113.60 437.74,85.60 447.35,76.60 476.05,77.60 490.40,79.60" fill="none" stroke="#000" stroke-width="1.5" stroke-dasharray="4.2,1.8"/>
<polyline points="496.60,73.60 507.70,79.60" fill="none" stroke="#000" stroke-width="1.5" stroke-dasharray="4.2,1.8"/>
<polyline points="433.00,113.60 437.74,97.60 447.35,71.60 476.05,75.60 490.40,75.60" fill="none" stroke="#000" stroke-width="1.5" stroke-dasharray="4.2,1.8"/>
<polyline points="496.60,94.80 507.70,94.60" fill="none" stroke="#000" stroke-width="1.5" stroke-dasharray="4.2,1.8"/>
<rect x="431.70" y="112.30" width="2.60" height="2.60" fill="#fff" stroke="#000" stroke-width="0.9"/>
<rect x="436.44" y="69.30" width="2.60" height="2.60" fill="#fff" stroke="#000" stroke-width="0.9"/>
<rect x="446.05" y="55.30" width="2.60" height="2.60" fill="#fff" stroke="#000" stroke-width="0.9"/>
<rect x="474.75" y="56.30" width="2.60" height="2.60" fill="#fff" stroke="#000" stroke-width="0.9"/>
<rect x="506.60" y="67.50" width="2.20" height="2.20" fill="#000"/>
<rect x="431.70" y="112.30" width="2.60" height="2.60" fill="#fff" stroke="#000" stroke-width="0.9"/>
<rect x="446.05" y="58.30" width="2.60" height="2.60" fill="#fff" stroke="#000" stroke-width="0.9"/>
<rect x="474.75" y="57.30" width="2.60" height="2.60" fill="#fff" stroke="#000" stroke-width="0.9"/>
<rect x="506.60" y="73.50" width="2.20" height="2.20" fill="#000"/>
<rect x="431.70" y="112.30" width="2.60" height="2.60" fill="#fff" stroke="#000" stroke-width="0.9"/>
<rect x="446.05" y="76.30" width="2.60" height="2.60" fill="#fff" stroke="#000" stroke-width="0.9"/>
<rect x="474.75" y="74.70" width="2.60" height="2.60" fill="#fff" stroke="#000" stroke-width="0.9"/>
<rect x="506.60" y="70.50" width="2.20" height="2.20" fill="#000"/>
<rect x="431.70" y="112.30" width="2.60" height="2.60" fill="#fff" stroke="#000" stroke-width="0.9"/>
<rect x="474.75" y="77.30" width="2.60" height="2.60" fill="#fff" stroke="#000" stroke-width="0.9"/>
<rect x="506.60" y="80.50" width="2.20" height="2.20" fill="#000"/>
<rect x="431.70" y="112.30" width="2.60" height="2.60" fill="#fff" stroke="#000" stroke-width="0.9"/>
<rect x="474.75" y="81.30" width="2.60" height="2.60" fill="#fff" stroke="#000" stroke-width="0.9"/>
<rect x="506.60" y="76.50" width="2.20" height="2.20" fill="#000"/>
<rect x="431.70" y="112.30" width="2.60" height="2.60" fill="#fff" stroke="#000" stroke-width="0.9"/>
<rect x="474.75" y="85.30" width="2.60" height="2.60" fill="#fff" stroke="#000" stroke-width="0.9"/>
<rect x="506.60" y="83.50" width="2.20" height="2.20" fill="#000"/>
<rect x="431.70" y="112.30" width="2.60" height="2.60" fill="#fff" stroke="#000" stroke-width="0.9"/>
<rect x="446.05" y="99.30" width="2.60" height="2.60" fill="#fff" stroke="#000" stroke-width="0.9"/>
<rect x="474.75" y="91.10" width="2.60" height="2.60" fill="#fff" stroke="#000" stroke-width="0.9"/>
<rect x="506.60" y="87.50" width="2.20" height="2.20" fill="#000"/>
<rect x="431.70" y="112.30" width="2.60" height="2.60" fill="#fff" stroke="#000" stroke-width="0.9"/>
<rect x="474.75" y="88.30" width="2.60" height="2.60" fill="#fff" stroke="#000" stroke-width="0.9"/>
<rect x="506.60" y="91.50" width="2.20" height="2.20" fill="#000"/>
<rect x="431.70" y="112.30" width="2.60" height="2.60" fill="#fff" stroke="#000" stroke-width="0.9"/>
<rect x="446.05" y="75.30" width="2.60" height="2.60" fill="#fff" stroke="#000" stroke-width="0.9"/>
<rect x="474.75" y="76.30" width="2.60" height="2.60" fill="#fff" stroke="#000" stroke-width="0.9"/>
<rect x="506.60" y="78.50" width="2.20" height="2.20" fill="#000"/>
<rect x="431.70" y="112.30" width="2.60" height="2.60" fill="#fff" stroke="#000" stroke-width="0.9"/>
<rect x="446.05" y="70.30" width="2.60" height="2.60" fill="#fff" stroke="#000" stroke-width="0.9"/>
<rect x="474.75" y="74.30" width="2.60" height="2.60" fill="#fff" stroke="#000" stroke-width="0.9"/>
<rect x="506.60" y="93.50" width="2.20" height="2.20" fill="#000"/>
<rect x="445.65" y="75.90" width="3.40" height="3.40" fill="#000"/>
<rect x="474.35" y="75.30" width="3.40" height="3.40" fill="#000"/>
<rect x="445.65" y="98.90" width="3.40" height="3.40" fill="#000"/>
<line x1="507.70" y1="65.60" x2="507.70" y2="95.60" stroke="#000" stroke-width="1.6"/>
<polyline points="447.35,77.60 476.05,77.00 490.40,78.40" fill="none" stroke="#000" stroke-width="1.8"/>
<polyline points="433.00,113.60 437.74,93.60 447.35,77.60" fill="none" stroke="#000" stroke-width="1.8"/>
<line x1="335.20" y1="139.30" x2="335.20" y2="219.60" stroke="#000" stroke-width="1.4"/>
<line x1="333.20" y1="219.60" x2="335.20" y2="219.60" stroke="#000" stroke-width="1.4"/>
<text x="0.00" y="0.00" font-size="7.9" font-weight="bold" text-anchor="end" transform="translate(331.60,222.68) scale(0.88,1.1)">0.0</text>
<line x1="333.20" y1="179.72" x2="335.20" y2="179.72" stroke="#000" stroke-width="1.4"/>
<text x="0.00" y="0.00" font-size="7.9" font-weight="bold" text-anchor="end" transform="translate(331.60,182.81) scale(0.88,1.1)">2.5</text>
<line x1="333.20" y1="139.85" x2="335.20" y2="139.85" stroke="#000" stroke-width="1.4"/>
<text x="0.00" y="0.00" font-size="7.9" font-weight="bold" text-anchor="end" transform="translate(331.60,142.93) scale(0.88,1.1)">5.0</text>
<line x1="333.70" y1="199.66" x2="335.20" y2="199.66" stroke="#000" stroke-width="1.4"/>
<line x1="333.70" y1="159.79" x2="335.20" y2="159.79" stroke="#000" stroke-width="1.4"/>
<line x1="335.20" y1="219.40" x2="416.30" y2="219.40" stroke="#000" stroke-width="1.4"/>
<line x1="335.20" y1="219.40" x2="335.20" y2="221.20" stroke="#000" stroke-width="1.4"/>
<text x="0.00" y="0.00" font-size="7.9" font-weight="bold" text-anchor="middle" transform="translate(335.20,229.90) scale(0.96,1.1)">0</text>
<line x1="358.35" y1="219.40" x2="358.35" y2="221.20" stroke="#000" stroke-width="1.4"/>
<text x="0.00" y="0.00" font-size="7.9" font-weight="bold" text-anchor="middle" transform="translate(358.35,229.90) scale(0.96,1.1)">1</text>
<line x1="381.50" y1="219.40" x2="381.50" y2="221.20" stroke="#000" stroke-width="1.4"/>
<text x="0.00" y="0.00" font-size="7.9" font-weight="bold" text-anchor="middle" transform="translate(381.50,229.90) scale(0.96,1.1)">2</text>
<line x1="404.65" y1="219.40" x2="404.65" y2="221.20" stroke="#000" stroke-width="1.4"/>
<text x="0.00" y="0.00" font-size="7.9" font-weight="bold" text-anchor="middle" transform="translate(404.65,229.90) scale(0.96,1.1)">3</text>
<line x1="346.77" y1="219.40" x2="346.77" y2="220.70" stroke="#000" stroke-width="1.4"/>
<line x1="369.92" y1="219.40" x2="369.92" y2="220.70" stroke="#000" stroke-width="1.4"/>
<line x1="393.07" y1="219.40" x2="393.07" y2="220.70" stroke="#000" stroke-width="1.4"/>
<line x1="416.22" y1="219.40" x2="416.22" y2="220.70" stroke="#000" stroke-width="1.4"/>
<polyline points="335.20,203.65 342.84,198.87 358.35,201.26 404.65,204.93" fill="none" stroke="#000" stroke-width="1.2"/>
<polyline points="335.20,203.65 342.84,202.06 358.35,203.65 404.65,206.04" fill="none" stroke="#000" stroke-width="1.2"/>
<polyline points="335.20,203.65 342.84,205.25 358.35,206.04 404.65,206.84" fill="none" stroke="#000" stroke-width="1.2"/>
<polyline points="335.20,203.65 342.84,206.84 358.35,207.64 404.65,209.23" fill="none" stroke="#000" stroke-width="1.2"/>
<polyline points="335.20,203.65 342.84,208.44 358.35,209.23 404.65,210.83" fill="none" stroke="#000" stroke-width="1.2"/>
<polyline points="335.20,203.65 342.84,211.62 358.35,213.22 404.65,215.61" fill="none" stroke="#000" stroke-width="1.2"/>
<polyline points="335.20,203.65 342.84,203.65 358.35,205.25 404.65,212.42" fill="none" stroke="#000" stroke-width="1.2"/>
<polyline points="335.20,203.65 342.84,200.46 358.35,208.44 404.65,208.44" fill="none" stroke="#000" stroke-width="1.2"/>
<polyline points="335.20,203.65 342.84,204.45 358.35,206.84 404.65,207.64" fill="none" stroke="#000" stroke-width="1.2"/>
<polygon points="335.20,201.81 336.90,204.73 333.50,204.73" fill="#000"/>
<polygon points="342.84,197.03 344.54,199.94 341.14,199.94" fill="#fff" stroke="#000" stroke-width="0.9"/>
<polygon points="358.35,199.42 360.05,202.34 356.65,202.34" fill="#fff" stroke="#000" stroke-width="0.9"/>
<polygon points="404.65,203.09 406.35,206.00 402.95,206.00" fill="#fff" stroke="#000" stroke-width="0.9"/>
<polygon points="335.20,201.81 336.90,204.73 333.50,204.73" fill="#000"/>
<polygon points="342.84,200.22 344.54,203.13 341.14,203.13" fill="#fff" stroke="#000" stroke-width="0.9"/>
<polygon points="358.35,201.81 360.05,204.73 356.65,204.73" fill="#fff" stroke="#000" stroke-width="0.9"/>
<polygon points="404.65,204.20 406.35,207.12 402.95,207.12" fill="#fff" stroke="#000" stroke-width="0.9"/>
<polygon points="335.20,201.81 336.90,204.73 333.50,204.73" fill="#000"/>
<polygon points="342.84,203.41 344.54,206.32 341.14,206.32" fill="#fff" stroke="#000" stroke-width="0.9"/>
<polygon points="358.35,204.20 360.05,207.12 356.65,207.12" fill="#fff" stroke="#000" stroke-width="0.9"/>
<polygon points="404.65,205.00 406.35,207.92 402.95,207.92" fill="#fff" stroke="#000" stroke-width="0.9"/>
<polygon points="335.20,201.81 336.90,204.73 333.50,204.73" fill="#000"/>
<polygon points="342.84,205.00 344.54,207.92 341.14,207.92" fill="#fff" stroke="#000" stroke-width="0.9"/>
<polygon points="358.35,205.80 360.05,208.72 356.65,208.72" fill="#fff" stroke="#000" stroke-width="0.9"/>
<polygon points="404.65,207.39 406.35,210.31 402.95,210.31" fill="#fff" stroke="#000" stroke-width="0.9"/>
<polygon points="335.20,201.81 336.90,204.73 333.50,204.73" fill="#000"/>
<polygon points="342.84,206.59 344.54,209.51 341.14,209.51" fill="#fff" stroke="#000" stroke-width="0.9"/>
<polygon points="358.35,207.39 360.05,210.31 356.65,210.31" fill="#fff" stroke="#000" stroke-width="0.9"/>
<polygon points="404.65,208.99 406.35,211.91 402.95,211.91" fill="#fff" stroke="#000" stroke-width="0.9"/>
<polygon points="335.20,201.81 336.90,204.73 333.50,204.73" fill="#000"/>
<polygon points="342.84,209.78 344.54,212.70 341.14,212.70" fill="#fff" stroke="#000" stroke-width="0.9"/>
<polygon points="358.35,211.38 360.05,214.30 356.65,214.30" fill="#fff" stroke="#000" stroke-width="0.9"/>
<polygon points="404.65,213.77 406.35,216.69 402.95,216.69" fill="#fff" stroke="#000" stroke-width="0.9"/>
<polygon points="335.20,201.81 336.90,204.73 333.50,204.73" fill="#000"/>
<polygon points="342.84,201.81 344.54,204.73 341.14,204.73" fill="#fff" stroke="#000" stroke-width="0.9"/>
<polygon points="358.35,203.41 360.05,206.32 356.65,206.32" fill="#fff" stroke="#000" stroke-width="0.9"/>
<polygon points="404.65,210.58 406.35,213.50 402.95,213.50" fill="#fff" stroke="#000" stroke-width="0.9"/>
<polygon points="335.20,201.81 336.90,204.73 333.50,204.73" fill="#000"/>
<polygon points="342.84,198.62 344.54,201.54 341.14,201.54" fill="#fff" stroke="#000" stroke-width="0.9"/>
<polygon points="358.35,206.59 360.05,209.51 356.65,209.51" fill="#fff" stroke="#000" stroke-width="0.9"/>
<polygon points="404.65,206.59 406.35,209.51 402.95,209.51" fill="#fff" stroke="#000" stroke-width="0.9"/>
<polygon points="335.20,201.81 336.90,204.73 333.50,204.73" fill="#000"/>
<polygon points="342.84,202.61 344.54,205.53 341.14,205.53" fill="#fff" stroke="#000" stroke-width="0.9"/>
<polygon points="358.35,205.00 360.05,207.92 356.65,207.92" fill="#fff" stroke="#000" stroke-width="0.9"/>
<polygon points="404.65,205.80 406.35,208.72 402.95,208.72" fill="#fff" stroke="#000" stroke-width="0.9"/>
<polygon points="336.70,200.93 339.20,205.34 334.20,205.34" fill="#000"/>
<line x1="432.90" y1="138.60" x2="432.90" y2="219.80" stroke="#000" stroke-width="1.4"/>
<line x1="430.90" y1="219.80" x2="432.90" y2="219.80" stroke="#000" stroke-width="1.4"/>
<text x="0.00" y="0.00" font-size="7.9" font-weight="bold" text-anchor="end" transform="translate(429.30,222.88) scale(0.88,1.1)">0</text>
<line x1="430.90" y1="199.62" x2="432.90" y2="199.62" stroke="#000" stroke-width="1.4"/>
<text x="0.00" y="0.00" font-size="7.9" font-weight="bold" text-anchor="end" transform="translate(429.30,202.71) scale(0.88,1.1)">10</text>
<line x1="430.90" y1="179.45" x2="432.90" y2="179.45" stroke="#000" stroke-width="1.4"/>
<text x="0.00" y="0.00" font-size="7.9" font-weight="bold" text-anchor="end" transform="translate(429.30,182.53) scale(0.88,1.1)">20</text>
<line x1="430.90" y1="159.28" x2="432.90" y2="159.28" stroke="#000" stroke-width="1.4"/>
<text x="0.00" y="0.00" font-size="7.9" font-weight="bold" text-anchor="end" transform="translate(429.30,162.36) scale(0.88,1.1)">30</text>
<line x1="430.90" y1="139.10" x2="432.90" y2="139.10" stroke="#000" stroke-width="1.4"/>
<text x="0.00" y="0.00" font-size="7.9" font-weight="bold" text-anchor="end" transform="translate(429.30,142.18) scale(0.88,1.1)">40</text>
<line x1="432.90" y1="219.80" x2="490.50" y2="219.80" stroke="#000" stroke-width="1.4"/>
<line x1="496.40" y1="219.80" x2="514.80" y2="219.80" stroke="#000" stroke-width="1.4"/>
<line x1="433.00" y1="219.80" x2="433.00" y2="221.60" stroke="#000" stroke-width="1.4"/>
<text x="0.00" y="0.00" font-size="7.9" font-weight="bold" text-anchor="middle" transform="translate(433.00,229.70) scale(0.96,1.1)">0</text>
<line x1="447.35" y1="219.80" x2="447.35" y2="221.60" stroke="#000" stroke-width="1.4"/>
<text x="0.00" y="0.00" font-size="7.9" font-weight="bold" text-anchor="middle" transform="translate(447.35,229.70) scale(0.96,1.1)">1</text>
<line x1="461.70" y1="219.80" x2="461.70" y2="221.60" stroke="#000" stroke-width="1.4"/>
<text x="0.00" y="0.00" font-size="7.9" font-weight="bold" text-anchor="middle" transform="translate(461.70,229.70) scale(0.96,1.1)">2</text>
<line x1="476.05" y1="219.80" x2="476.05" y2="221.60" stroke="#000" stroke-width="1.4"/>
<text x="0.00" y="0.00" font-size="7.9" font-weight="bold" text-anchor="middle" transform="translate(476.05,229.70) scale(0.96,1.1)">3</text>
<line x1="490.40" y1="219.80" x2="490.40" y2="221.60" stroke="#000" stroke-width="1.4"/>
<text x="0.00" y="0.00" font-size="7.9" font-weight="bold" text-anchor="middle" transform="translate(490.40,229.70) scale(0.96,1.1)">4</text>
<line x1="440.18" y1="219.80" x2="440.18" y2="221.10" stroke="#000" stroke-width="1.4"/>
<line x1="454.52" y1="219.80" x2="454.52" y2="221.10" stroke="#000" stroke-width="1.4"/>
<line x1="468.88" y1="219.80" x2="468.88" y2="221.10" stroke="#000" stroke-width="1.4"/>
<line x1="483.23" y1="219.80" x2="483.23" y2="221.10" stroke="#000" stroke-width="1.4"/>
<line x1="490.50" y1="218.00" x2="490.50" y2="221.60" stroke="#000" stroke-width="1.4"/>
<line x1="496.40" y1="218.00" x2="496.40" y2="221.60" stroke="#000" stroke-width="1.4"/>
<line x1="514.80" y1="218.00" x2="514.80" y2="221.60" stroke="#000" stroke-width="1.4"/>
<text x="0.00" y="0.00" font-size="7.9" font-weight="bold" text-anchor="middle" transform="translate(500.50,229.70) scale(0.96,1.1)">12</text>
<text x="0.00" y="0.00" font-size="7.9" font-weight="bold" text-anchor="middle" transform="translate(514.20,229.70) scale(0.96,1.1)">20</text>
<polyline points="433.00,217.78 437.74,172.99 447.35,178.04 476.05,175.62 490.40,172.59" fill="none" stroke="#000" stroke-width="1.2"/>
<polyline points="496.40,172.39 508.50,170.37" fill="none" stroke="#000" stroke-width="1.2"/>
<polyline points="433.00,217.78 437.74,186.91 447.35,179.45 476.05,179.45 490.40,175.42" fill="none" stroke="#000" stroke-width="1.2"/>
<polyline points="496.40,175.42 508.50,173.40" fill="none" stroke="#000" stroke-width="1.2"/>
<polyline points="433.00,217.78 437.74,192.36 447.35,184.90 476.05,182.48 490.40,177.43" fill="none" stroke="#000" stroke-width="1.2"/>
<polyline points="496.40,177.43 508.50,175.42" fill="none" stroke="#000" stroke-width="1.2"/>
<polyline points="433.00,217.78 437.74,199.62 447.35,192.16 476.05,187.52 490.40,180.46" fill="none" stroke="#000" stroke-width="1.2"/>
<polyline points="496.40,179.45 508.50,177.43" fill="none" stroke="#000" stroke-width="1.2"/>
<polyline points="433.00,217.78 437.74,205.68 447.35,202.65 476.05,188.53 490.40,183.49" fill="none" stroke="#000" stroke-width="1.2"/>
<polyline points="496.40,182.48 508.50,179.45" fill="none" stroke="#000" stroke-width="1.2"/>
<polyline points="433.00,217.78 437.74,210.72 447.35,204.47 476.05,190.95 490.40,185.50" fill="none" stroke="#000" stroke-width="1.2"/>
<polyline points="496.40,185.50 508.50,182.48" fill="none" stroke="#000" stroke-width="1.2"/>
<polyline points="433.00,217.78 437.74,213.75 447.35,208.30 476.05,195.99 490.40,188.53" fill="none" stroke="#000" stroke-width="1.2"/>
<polyline points="496.40,188.53 508.50,185.50" fill="none" stroke="#000" stroke-width="1.2"/>
<polyline points="433.00,217.78 437.74,207.70 447.35,201.64 476.05,193.57 490.40,193.57" fill="none" stroke="#000" stroke-width="1.2"/>
<polyline points="496.40,190.55 508.50,186.51" fill="none" stroke="#000" stroke-width="1.2"/>
<polyline points="433.00,217.78 437.74,195.59 447.35,190.55 476.05,178.44 490.40,176.42" fill="none" stroke="#000" stroke-width="1.2"/>
<polyline points="496.40,181.47 508.50,180.46" fill="none" stroke="#000" stroke-width="1.2"/>
<polyline points="433.00,217.78 437.74,215.77 447.35,203.66 476.05,185.50 490.40,187.52" fill="none" stroke="#000" stroke-width="1.2"/>
<polyline points="496.40,187.52 508.50,184.49" fill="none" stroke="#000" stroke-width="1.2"/>
<polygon points="433.00,215.94 434.70,218.86 431.30,218.86" fill="#fff" stroke="#000" stroke-width="0.9"/>
<polygon points="437.74,171.15 439.44,174.07 436.04,174.07" fill="#fff" stroke="#000" stroke-width="0.9"/>
<polygon points="447.35,176.20 449.05,179.12 445.65,179.12" fill="#fff" stroke="#000" stroke-width="0.9"/>
<polygon points="476.05,173.78 477.75,176.69 474.35,176.69" fill="#fff" stroke="#000" stroke-width="0.9"/>
<polygon points="508.50,168.75 510.00,171.30 507.00,171.30" fill="#000"/>
<polygon points="433.00,215.94 434.70,218.86 431.30,218.86" fill="#fff" stroke="#000" stroke-width="0.9"/>
<polygon points="437.74,185.07 439.44,187.99 436.04,187.99" fill="#fff" stroke="#000" stroke-width="0.9"/>
<polygon points="447.35,177.61 449.05,180.53 445.65,180.53" fill="#fff" stroke="#000" stroke-width="0.9"/>
<polygon points="476.05,177.61 477.75,180.53 474.35,180.53" fill="#fff" stroke="#000" stroke-width="0.9"/>
<polygon points="508.50,171.78 510.00,174.32 507.00,174.32" fill="#000"/>
<polygon points="433.00,215.94 434.70,218.86 431.30,218.86" fill="#fff" stroke="#000" stroke-width="0.9"/>
<polygon points="437.74,190.52 439.44,193.44 436.04,193.44" fill="#fff" stroke="#000" stroke-width="0.9"/>
<polygon points="447.35,183.06 449.05,185.98 445.65,185.98" fill="#fff" stroke="#000" stroke-width="0.9"/>
<polygon points="476.05,180.64 477.75,183.55 474.35,183.55" fill="#fff" stroke="#000" stroke-width="0.9"/>
<polygon points="508.50,173.80 510.00,176.34 507.00,176.34" fill="#000"/>
<polygon points="433.00,215.94 434.70,218.86 431.30,218.86" fill="#fff" stroke="#000" stroke-width="0.9"/>
<polygon points="437.74,197.78 439.44,200.70 436.04,200.70" fill="#fff" stroke="#000" stroke-width="0.9"/>
<polygon points="447.35,190.32 449.05,193.24 445.65,193.24" fill="#fff" stroke="#000" stroke-width="0.9"/>
<polygon points="476.05,185.68 477.75,188.60 474.35,188.60" fill="#fff" stroke="#000" stroke-width="0.9"/>
<polygon points="508.50,175.81 510.00,178.36 507.00,178.36" fill="#000"/>
<polygon points="433.00,215.94 434.70,218.86 431.30,218.86" fill="#fff" stroke="#000" stroke-width="0.9"/>
<polygon points="437.74,203.84 439.44,206.76 436.04,206.76" fill="#fff" stroke="#000" stroke-width="0.9"/>
<polygon points="447.35,200.81 449.05,203.73 445.65,203.73" fill="#fff" stroke="#000" stroke-width="0.9"/>
<polygon points="476.05,186.69 477.75,189.61 474.35,189.61" fill="#fff" stroke="#000" stroke-width="0.9"/>
<polygon points="508.50,177.83 510.00,180.37 507.00,180.37" fill="#000"/>
<polygon points="433.00,215.94 434.70,218.86 431.30,218.86" fill="#fff" stroke="#000" stroke-width="0.9"/>
<polygon points="437.74,208.88 439.44,211.80 436.04,211.80" fill="#fff" stroke="#000" stroke-width="0.9"/>
<polygon points="447.35,202.63 449.05,205.55 445.65,205.55" fill="#fff" stroke="#000" stroke-width="0.9"/>
<polygon points="476.05,189.11 477.75,192.03 474.35,192.03" fill="#fff" stroke="#000" stroke-width="0.9"/>
<polygon points="508.50,180.86 510.00,183.40 507.00,183.40" fill="#000"/>
<polygon points="433.00,215.94 434.70,218.86 431.30,218.86" fill="#fff" stroke="#000" stroke-width="0.9"/>
<polygon points="437.74,211.91 439.44,214.83 436.04,214.83" fill="#fff" stroke="#000" stroke-width="0.9"/>
<polygon points="447.35,206.46 449.05,209.38 445.65,209.38" fill="#fff" stroke="#000" stroke-width="0.9"/>
<polygon points="476.05,194.15 477.75,197.07 474.35,197.07" fill="#fff" stroke="#000" stroke-width="0.9"/>
<polygon points="508.50,183.88 510.00,186.43 507.00,186.43" fill="#000"/>
<polygon points="433.00,215.94 434.70,218.86 431.30,218.86" fill="#fff" stroke="#000" stroke-width="0.9"/>
<polygon points="437.74,205.86 439.44,208.77 436.04,208.77" fill="#fff" stroke="#000" stroke-width="0.9"/>
<polygon points="447.35,199.80 449.05,202.72 445.65,202.72" fill="#fff" stroke="#000" stroke-width="0.9"/>
<polygon points="476.05,191.73 477.75,194.65 474.35,194.65" fill="#fff" stroke="#000" stroke-width="0.9"/>
<polygon points="508.50,184.89 510.00,187.44 507.00,187.44" fill="#000"/>
<polygon points="433.00,215.94 434.70,218.86 431.30,218.86" fill="#fff" stroke="#000" stroke-width="0.9"/>
<polygon points="437.74,193.75 439.44,196.67 436.04,196.67" fill="#fff" stroke="#000" stroke-width="0.9"/>
<polygon points="447.35,188.71 449.05,191.62 445.65,191.62" fill="#fff" stroke="#000" stroke-width="0.9"/>
<polygon points="476.05,176.60 477.75,179.52 474.35,179.52" fill="#fff" stroke="#000" stroke-width="0.9"/>
<polygon points="508.50,178.84 510.00,181.38 507.00,181.38" fill="#000"/>
<polygon points="433.00,215.94 434.70,218.86 431.30,218.86" fill="#fff" stroke="#000" stroke-width="0.9"/>
<polygon points="437.74,213.93 439.44,216.84 436.04,216.84" fill="#fff" stroke="#000" stroke-width="0.9"/>
<polygon points="447.35,201.82 449.05,204.74 445.65,204.74" fill="#fff" stroke="#000" stroke-width="0.9"/>
<polygon points="476.05,183.66 477.75,186.58 474.35,186.58" fill="#fff" stroke="#000" stroke-width="0.9"/>
<polygon points="508.50,182.87 510.00,185.42 507.00,185.42" fill="#000"/>
<polygon points="437.74,170.93 439.64,174.23 435.84,174.23" fill="#000"/>
<line x1="508.50" y1="169.36" x2="508.50" y2="187.52" stroke="#000" stroke-width="1.6"/>
</svg>
</body></html>
